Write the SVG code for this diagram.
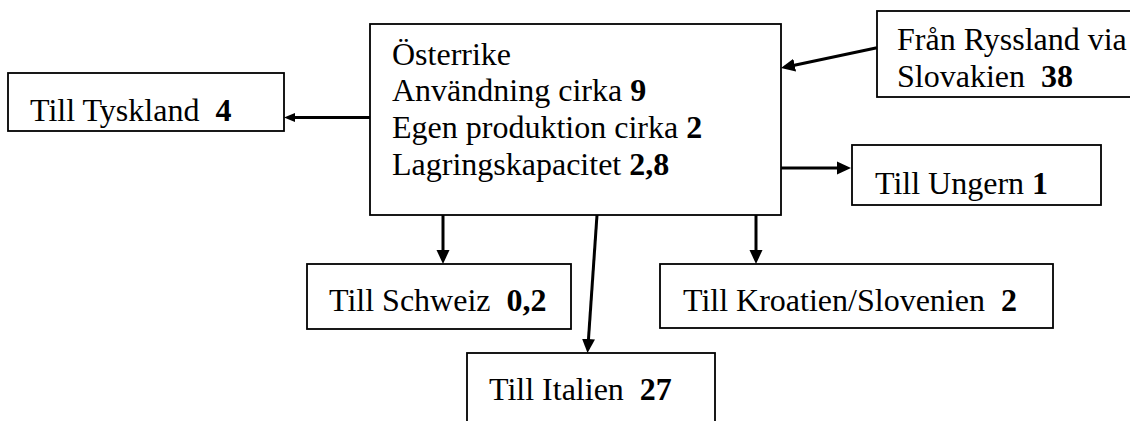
<svg xmlns="http://www.w3.org/2000/svg" width="1130" height="421" viewBox="0 0 1130 421">
<style>
.box{fill:#fff;stroke:#000;stroke-width:1.8}
.t{font-family:"Liberation Serif","Times New Roman",serif;font-size:32px;fill:#000;white-space:pre}
.b{font-weight:bold}
.c{stroke:#000;stroke-width:3;fill:none;marker-end:url(#ah)}
.cs{stroke:#000;stroke-width:3;fill:none;marker-end:url(#ahs)}
</style>
<defs>
<marker id="ah" markerUnits="userSpaceOnUse" markerWidth="14" markerHeight="14" refX="10" refY="7" orient="auto">
<path d="M0,0.5 L14,7 L0,13.5 Z" fill="#000"/>
</marker>
<marker id="ahs" markerUnits="userSpaceOnUse" markerWidth="11" markerHeight="10" refX="7" refY="5" orient="auto">
<path d="M0,0.5 L11,5 L0,9.5 Z" fill="#000"/>
</marker>
</defs>
<rect width="1130" height="421" fill="#fff"/>
<g id="connectors">
<line class="c" x1="877" y1="47.7" x2="784.9" y2="67.2"/>
<line class="cs" x1="370" y1="117.5" x2="288" y2="117.5"/>
<line class="c" x1="781" y1="168" x2="847" y2="168"/>
<line class="c" x1="443" y1="215" x2="443" y2="260"/>
<line class="c" x1="597" y1="215" x2="587.8" y2="349"/>
<line class="c" x1="756" y1="215" x2="756" y2="260"/>
</g>
<g id="main">
<rect class="box" x="370" y="24" width="411" height="191"/>
<text class="t" x="392" y="65">Österrike</text>
<text class="t" x="392" y="101">Användning cirka <tspan class="b">9</tspan></text>
<text class="t" x="392" y="137.5">Egen produktion cirka <tspan class="b">2</tspan></text>
<text class="t" x="392" y="174.5">Lagringskapacitet <tspan class="b">2,8</tspan></text>
</g>
<g id="ryssland">
<rect class="box" x="877" y="11" width="263" height="86"/>
<text class="t" x="897" y="50">Från Ryssland via</text>
<text class="t" x="897" y="86.5">Slovakien  <tspan class="b">38</tspan></text>
</g>
<g id="tyskland">
<rect class="box" x="8" y="73" width="276" height="58"/>
<text class="t" x="30" y="120.5">Till Tyskland  <tspan class="b">4</tspan></text>
</g>
<g id="ungern">
<rect class="box" x="852" y="145" width="249" height="60"/>
<text class="t" x="875" y="194">Till Ungern <tspan class="b">1</tspan></text>
</g>
<g id="schweiz">
<rect class="box" x="307" y="264" width="264" height="65"/>
<text class="t" x="329" y="310.5">Till Schweiz  <tspan class="b">0,2</tspan></text>
</g>
<g id="kroatien">
<rect class="box" x="660" y="264" width="393" height="64"/>
<text class="t" x="683" y="311">Till Kroatien/Slovenien  <tspan class="b">2</tspan></text>
</g>
<g id="italien">
<rect class="box" x="467" y="353" width="248" height="80"/>
<text class="t" x="489" y="399.5">Till Italien  <tspan class="b">27</tspan></text>
</g>
</svg>
